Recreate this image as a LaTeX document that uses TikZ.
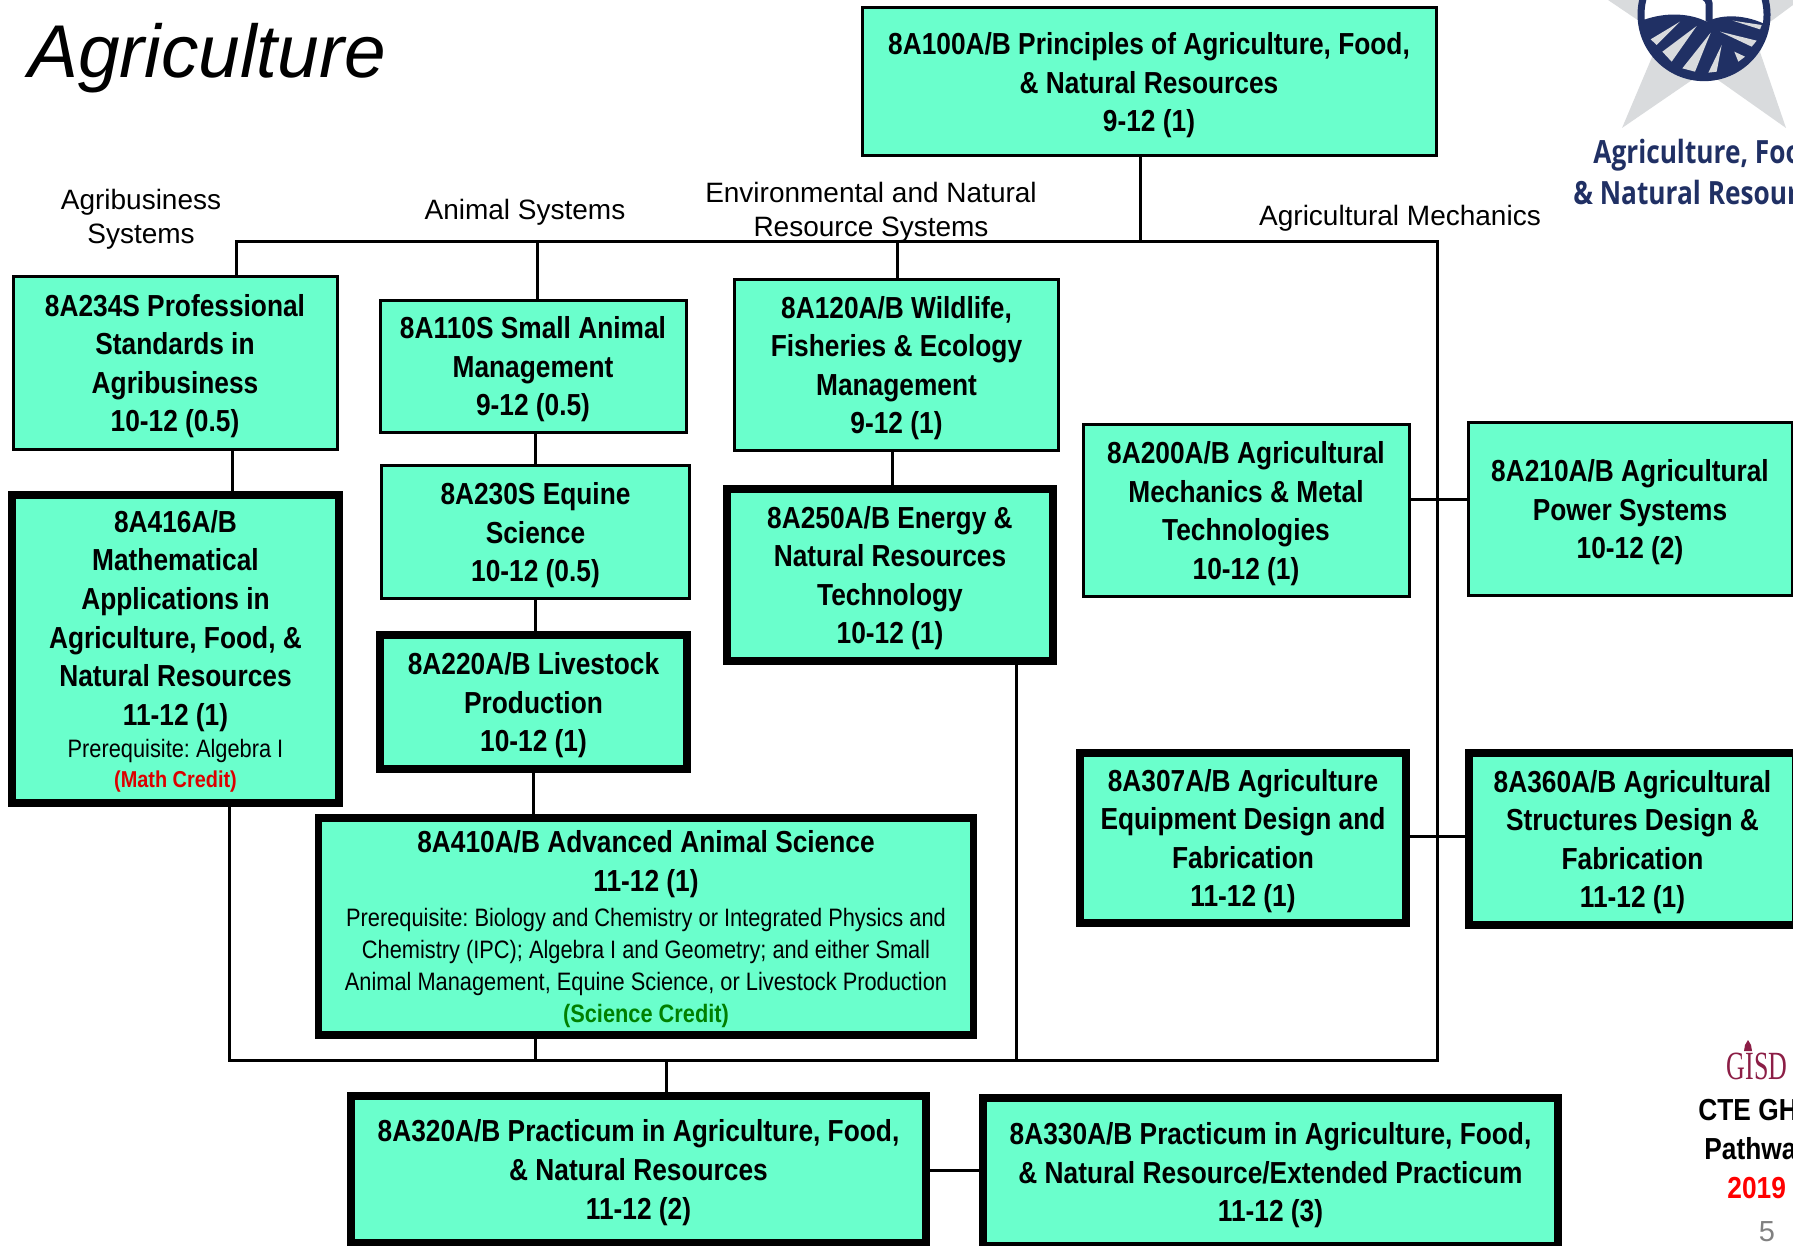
\documentclass[tikz,border=0pt]{standalone}
\usepackage{fontspec}
\setmainfont{Liberation Sans}
\newfontfamily\narrowfont[FakeStretch=0.865]{Liberation Sans}
\newfontfamily\logofont[FakeStretch=0.82]{Open Sans}
\newfontfamily\gisdfont[FakeStretch=0.65]{Liberation Serif}
\definecolor{coursefill}{RGB}{106,255,204}
\definecolor{logoblue}{RGB}{32,48,100}
\definecolor{logogray}{RGB}{217,219,221}
\definecolor{gisdred}{RGB}{140,30,70}
\definecolor{mathred}{RGB}{220,0,0}
\definecolor{sciencegreen}{RGB}{0,128,0}
\newcommand{\prereq}[1]{{\frenchspacing\mdseries\fontsize{12.6}{15}\selectfont #1}}
\newcommand{\credit}[3]{{\color{#1}\fontsize{#2}{15}\selectfont #3}}
\tikzset{
  course box/.style={
    draw,
    fill=coursefill,
    align=center,
    inner sep=0pt,
    line width=1.5pt,
    text depth=-2pt,
    font=\narrowfont\fontsize{15.2}{19.3}\selectfont\bfseries,
  },
  course thick/.style={
    course box,
    line width=3.7pt,
  },
  path label/.style={
    align=center,
    font=\fontsize{14}{17}\selectfont,
  },
  logo text/.style={
    font=\logofont\fontsize{16}{19}\selectfont\bfseries,
    text=logoblue,
    anchor=base west,
    inner sep=0pt,
  },
  side text/.style={
    font=\narrowfont\fontsize{15.2}{19}\selectfont\bfseries,
    anchor=base west,
    inner sep=0pt,
  },
  link/.style={
    line width=1.5pt,
  },
}
\begin{document}
\begin{tikzpicture}[x=0.5pt,y=-0.5pt]
        \useasboundingbox (0,0) rectangle (1793,1246);

        \node[font=\itshape\fontsize{37.4}{40}\selectfont, anchor=base west, inner sep=0pt] (title) at (28,78) {Agriculture};
        \node[path label] (lab1) at (141,219) {Agribusiness\\Systems};
        \node[path label] (lab2) at (525,212) {Animal Systems};
        \node[path label] (lab3) at (871,212) {Environmental and Natural\\Resource Systems};
        \node[path label] (lab4) at (1400,218) {Agricultural Mechanics};

        \node[course box, minimum width=287pt, minimum height=74pt] (b100) at (1149,82) {8A100A/B Principles of Agriculture, Food,\\\& Natural Resources\\9-12 (1)};
        \node[course box, minimum width=162pt, minimum height=86pt] (b234) at (175,363) {8A234S Professional\\Standards in\\Agribusiness\\10-12 (0.5)};
        \node[course box, minimum width=153pt, minimum height=66pt] (b110) at (533,366) {8A110S Small Animal\\Management\\9-12 (0.5)};
        \node[course box, minimum width=162pt, minimum height=85pt] (b120) at (896.5,365) {8A120A/B Wildlife,\\Fisheries \& Ecology\\Management\\9-12 (1)};
        \node[course thick, minimum width=163.5pt, minimum height=154pt] (b416) at (175.5,649) {8A416A/B\\Mathematical\\Applications in\\Agriculture, Food, \&\\Natural Resources\\11-12 (1)\\[-3pt]\prereq{Prerequisite: Algebra I}\\[-4.3pt]\credit{mathred}{11.5}{(Math Credit)}};
        \node[course box, minimum width=154pt, minimum height=66.5pt] (b230) at (535.5,532) {8A230S Equine\\Science\\10-12 (0.5)};
        \node[course thick, minimum width=153.5pt, minimum height=67pt] (b220) at (533.5,702) {8A220A/B Livestock\\Production\\10-12 (1)};
        \node[course thick, minimum width=163pt, minimum height=86pt] (b250) at (890,575) {8A250A/B Energy \&\\Natural Resources\\Technology\\10-12 (1)};
        \node[course box, minimum width=163pt, minimum height=86pt] (b200) at (1246,510.5) {8A200A/B Agricultural\\Mechanics \& Metal\\Technologies\\10-12 (1)};
        \node[course box, minimum width=162pt, minimum height=86.5pt] (b210) at (1630,509) {8A210A/B Agricultural\\Power Systems\\10-12 (2)};
        \node[course thick, minimum width=163pt, minimum height=85pt] (b307) at (1243,838) {8A307A/B Agriculture\\Equipment Design and\\Fabrication\\11-12 (1)};
        \node[course thick, minimum width=163.5pt, minimum height=86pt] (b360) at (1632.5,839) {8A360A/B Agricultural\\Structures Design \&\\Fabrication\\11-12 (1)};
        \node[course thick, minimum width=327.5pt, minimum height=108.5pt] (b410) at (646,926.5) {8A410A/B Advanced Animal Science\\11-12 (1)\\[-1.6pt]\prereq{Prerequisite: Biology and Chemistry or Integrated Physics and}\\[-3.3pt]\prereq{Chemistry (IPC); Algebra I and Geometry; and either Small}\\[-3.3pt]\prereq{Animal Management, Equine Science, or Livestock Production}\\[-3.3pt]\credit{sciencegreen}{12.6}{(Science Credit)}};
        \node[course thick, minimum width=287.5pt, minimum height=73.5pt] (b320) at (638.5,1169.5) {8A320A/B Practicum in Agriculture, Food,\\\& Natural Resources\\11-12 (2)};
        \node[course thick, minimum width=287.5pt, minimum height=74pt] (b330) at (1270.5,1172) {8A330A/B Practicum in Agriculture, Food,\\\& Natural Resource/Extended Practicum\\11-12 (3)};

        % upper and lower bus
        \coordinate (top drop) at (1140,242);
        \coordinate (bus left) at (236.5,242);
        \coordinate (bus animal) at (537,242);
        \coordinate (bus env) at (897,242);
        \coordinate (bus right) at (1437,242);
        \coordinate (low left) at (229,1060);
        \coordinate (low animal) at (535.5,1060);
        \coordinate (low drop) at (666.5,1060);
        \coordinate (low energy) at (1016,1060);
        \coordinate (low right) at (1437,1060);

        \draw[link] (b100.south -| top drop) -- (top drop);
        \draw[link] (bus left |- b234.north) -- (bus left) -- (bus right) -- (low right) -- (low left) -- (low left |- b416.south);
        \draw[link] (bus animal) -- (bus animal |- b110.north);
        \draw[link] (bus env) -- (bus env |- b120.north);
        \draw[link] (low animal) -- (low animal |- b410.south);
        \draw[link] (low energy) -- (low energy |- b250.south);
        \draw[link] (low drop) -- (low drop |- b320.north);

        % links between the boxes
        \coordinate (x234) at (232,0);
        \coordinate (x110) at (535,0);
        \coordinate (x230) at (535.7,0);
        \coordinate (x220) at (533.5,0);
        \coordinate (x120) at (892,0);
        \coordinate (y200) at (0,499);
        \coordinate (y307) at (0,836);
        \coordinate (y320) at (0,1170);
        \draw[link] (b234.south -| x234) -- (b416.north -| x234);
        \draw[link] (b110.south -| x110) -- (b230.north -| x110);
        \draw[link] (b230.south -| x230) -- (b220.north -| x230);
        \draw[link] (b220.south -| x220) -- (b410.north -| x220);
        \draw[link] (b120.south -| x120) -- (b250.north -| x120);
        \draw[link] (b200.east |- y200) -- (b210.west |- y200);
        \draw[link] (b307.east |- y307) -- (b360.west |- y307);
        \draw[link] (b320.east |- y320) -- (b330.west |- y320);

        % logo
        \fill[logogray] (1608,0) -- (1645,25) -- (1655,50) -- (1622,128) -- (1692,80) -- (1718,80) -- (1786,128) -- (1760,52) -- (1770,22) -- (1793,5) -- (1793,0) -- cycle;
        \begin{scope}[shift={(1500,0)},x=0.16667pt,y=-0.16667pt]
          \fill[white] (612,44) circle (196);
          \fill[logoblue] (430,60) .. controls (500,35) and (570,40) .. (620,65) .. controls (670,40) and (740,45) .. (800,75) -- (780,150) -- (690,225) -- (612,240) -- (500,205) -- (440,130) -- cycle;
          \draw[logoblue, line width=3.5pt] (612,44) circle (189);
          \draw[logoblue, line width=3.5pt] (627,65) -- (627,10) .. controls (625,0) .. (612,-10);
          \fill[logogray] (452,118) -- (540,65) -- (470,135) -- cycle;
          \fill[logogray] (487,155) -- (590,78) -- (515,185) -- cycle;
          \fill[logogray] (547,205) -- (632,98) -- (585,215) -- cycle;
          \fill[logogray] (625,218) -- (665,135) -- (650,215) -- cycle;
          \fill[logogray] (703,155) -- (735,170) -- (715,185) -- cycle;
          \fill[logogray] (660,95) -- (770,122) -- (755,140) -- cycle;
          \fill[logogray] (698,62) -- (785,75) -- (780,88) -- cycle;
        \end{scope}
        \node[logo text] (logo1) at (1593,164) {Agriculture, Foo};
        \node[logo text] (logo2) at (1573,205) {\& Natural Resour};

        % side block
        \node[font=\gisdfont\fontsize{20}{22}\selectfont, text=gisdred, inner sep=0pt] (gisd) at (1757,1066) {GISD};
        \fill[gisdred] (1744,1051) -- (1745,1045) -- (1748,1040) -- (1751,1045) -- (1752,1051) -- cycle;
        \node[side text] (side1) at (1698,1120) {CTE GH};
        \node[side text] (side2) at (1704,1159) {Pathwa};
        \node[side text, text=red] (side3) at (1727,1198) {2019};
        \node[font=\fontsize{14.5}{16}\selectfont, text=gray, inner sep=0pt] (pagenum) at (1767,1232) {5};
\end{tikzpicture}
\end{document}
